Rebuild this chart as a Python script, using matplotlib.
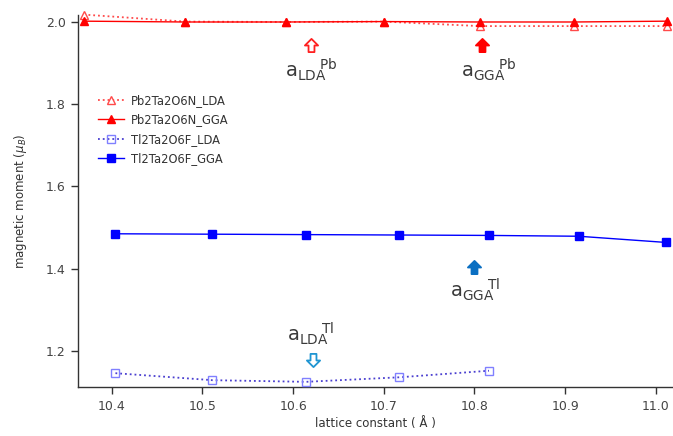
import matplotlib
matplotlib.use("Agg")
import matplotlib.pyplot as plt
from matplotlib.path import Path

# lattice constants (Å) and magnetic moments (μB)
pb_x = [10.369, 10.481, 10.592, 10.700, 10.806, 10.910, 11.012]
pb_lda = [2.018, 2.001, 2.000, 2.001, 1.990, 1.990, 1.990]
pb_gga = [2.002, 2.000, 2.000, 2.001, 2.000, 2.000, 2.002]

tl_x_lda = [10.404, 10.511, 10.614, 10.717, 10.816]
tl_lda = [1.146, 1.129, 1.125, 1.136, 1.152]
tl_x_gga = [10.404, 10.511, 10.614, 10.717, 10.816, 10.915, 11.011]
tl_gga = [1.485, 1.484, 1.483, 1.482, 1.481, 1.479, 1.464]

labels = ["Pb2Ta2O6N_LDA", "Pb2Ta2O6N_GGA", "Tl2Ta2O6F_LDA", "Tl2Ta2O6F_GGA"]

# equilibrium lattice constant markers: (x, y, label text x, label text y)
marks = {
    "pb_lda": (10.620, 1.943, 10.591, 1.866, r"$\mathregular{a_{LDA}\!\!{}^{Pb}}$"),
    "pb_gga": (10.808, 1.943, 10.785, 1.866, r"$\mathregular{a_{GGA}\!\!{}^{Pb}}$"),
    "tl_gga": (10.800, 1.404, 10.773, 1.331, r"$\mathregular{a_{GGA}\!\!{}^{Tl}}$"),
    "tl_lda": (10.622, 1.179, 10.593, 1.225, r"$\mathregular{a_{LDA}\!\!{}^{Tl}}$"),
}

plt.rcParams["font.family"] = ["DejaVu Sans"]
plt.rcParams["mathtext.fontset"] = "dejavusans"

# block arrow marker shapes
up_verts = [(0, 1), (1, 0), (0.45, 0), (0.45, -1), (-0.45, -1), (-0.45, 0), (-1, 0), (0, 1)]
up_arrow = Path(up_verts, [Path.MOVETO] + [Path.LINETO] * 6 + [Path.CLOSEPOLY])
down_arrow = Path([(x, -y) for x, y in up_verts], [Path.MOVETO] + [Path.LINETO] * 6 + [Path.CLOSEPOLY])

fig = plt.figure(figsize=(6.73, 4.36), dpi=100)
ax = fig.add_axes([0.1163, 0.1117, 0.8837, 0.8539])

ax.plot(pb_x, pb_lda, linestyle=":", color="#ff4a4a", lw=1.3, marker="^", ms=6,
        mfc="white", mec="#ff4a4a", mew=1.0, label=labels[0], clip_on=False, zorder=3)
ax.plot(pb_x, pb_gga, linestyle="-", color="#ff0000", lw=1.0, marker="^", ms=6,
        mfc="#ff0000", mec="#ff0000", label=labels[1], clip_on=False, zorder=4)
ax.plot(tl_x_lda, tl_lda, linestyle=":", color="#4a3fd0", lw=1.3, marker="s", ms=6,
        mfc="none", mec="#8080ff", mew=1.0, label=labels[2], zorder=3)
ax.plot(tl_x_gga, tl_gga, linestyle="-", color="#0000ff", lw=1.0, marker="s", ms=5.2,
        mfc="#0000ff", mec="#0000ff", label=labels[3], clip_on=False, zorder=4)

# arrows and labels
styles = {
    "pb_lda": (up_arrow, "white", "#ff2020"),
    "pb_gga": (up_arrow, "#ff0000", "#ff0000"),
    "tl_gga": (up_arrow, "#0a6fc2", "#0a6fc2"),
    "tl_lda": (down_arrow, "white", "#1f95d2"),
}
for key, (mx, my, tx, ty, txt) in marks.items():
    path, fc, ec = styles[key]
    ax.plot([mx], [my], linestyle="none", marker=path, ms=9.5, mfc=fc, mec=ec, mew=1.3)
    ax.text(tx, ty, txt, fontsize=14, color="#3a3a3a", ha="left", va="baseline")

ax.set_xlim(10.363, 11.019)
ax.set_ylim(1.1117, 2.017)
ax.set_xticks([10.4, 10.5, 10.6, 10.7, 10.8, 10.9, 11.0])
ax.set_yticks([1.2, 1.4, 1.6, 1.8, 2.0])
ax.xaxis.set_major_formatter(matplotlib.ticker.FormatStrFormatter("%.1f"))
ax.yaxis.set_major_formatter(matplotlib.ticker.FormatStrFormatter("%.1f"))

for side in ["top", "right"]:
    ax.spines[side].set_visible(False)
for side in ["left", "bottom"]:
    ax.spines[side].set_color("#333333")
    ax.spines[side].set_linewidth(1.0)
ax.tick_params(direction="out", length=5, width=1.0, color="#333333",
               labelsize=9, labelcolor="#444444", pad=4)

ax.set_xlabel("lattice constant ( Å )", fontsize=8.5, color="#333333", labelpad=3)
ax.set_ylabel(r"magnetic moment ($\mu_B$)", fontsize=8.5, color="#333333", labelpad=12)

ax.legend(loc="upper left", bbox_to_anchor=(0.025, 0.80), frameon=False, fontsize=8.3,
          handlelength=2.3, handletextpad=0.6, labelspacing=0.55, borderaxespad=0,
          labelcolor="#333333")

fig.savefig("out.png", dpi=100)
